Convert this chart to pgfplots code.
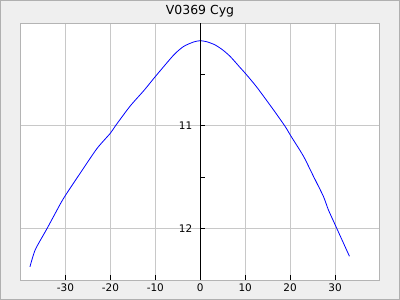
\documentclass[border=0pt]{standalone}
\usepackage{pgfplots}
\pgfplotsset{compat=1.18}
\usepackage{fontspec}
\setmainfont{DejaVu Sans}
\definecolor{bgc}{HTML}{EFEFEF}
\definecolor{outb}{HTML}{B0B0B0}
\definecolor{boxc}{HTML}{B4B4B4}
\definecolor{gridc}{HTML}{C8C8C8}
\begin{document}
\begin{tikzpicture}[x=1bp,y=1bp]
\useasboundingbox (0,0) rectangle (400,300);
\fill[bgc] (0,0) rectangle (400,300);
\draw[outb,line width=1bp] (0.5,0.5) rectangle (399.5,299.5);
\node[font=\fontsize{12.5}{14}\selectfont] at (200,289) {V0369 Cyg};
\begin{axis}[
  at={(20.5bp,20bp)}, anchor=south west,
  scale only axis, width=359.5bp, height=257bp,
  xmin=-40, xmax=40, ymin=10, ymax=12.5, y dir=reverse,
  axis background/.style={fill=white},
  axis line style={boxc,line width=1bp},
  xtick={-30,-20,-10,0,10,20,30},
  ytick={11,12}, yticklabels={}, ytick style={draw=none},
  xtick pos=left, tick align=inside,
  major tick length=5bp,
  xtick style={black,line width=1bp},
  grid=major, major grid style={gridc,line width=1bp},
  tick label style={font=\fontsize{10.5}{12}\selectfont},
  /pgf/number format/assume math mode=true,
  clip=true,
]
\addplot[blue,line width=0.8bp,no marks,smooth,tension=0.4] coordinates {
(-37.9,12.372) (-36.7,12.204) (-34.1,12.000) (-31.1,11.757) (-29.9,11.670)
(-26.7,11.460) (-23.0,11.222) (-20.0,11.072) (-18.9,11.002) (-15.6,10.808)
(-12.5,10.655) (-10.0,10.521) (-5.9,10.311) (-3.7,10.228) (-1.5,10.185)
(0,10.172) (1.5,10.183) (3.3,10.213) (5.0,10.262) (6.7,10.327) (8.9,10.435)
(10.0,10.488) (12.6,10.625) (16.3,10.845) (18.9,11.007) (20.0,11.087)
(20.7,11.136) (23.0,11.298) (25.2,11.492) (27.4,11.686) (28.5,11.816)
(30.0,11.961) (33.2,12.269)
};
\end{axis}
\begin{axis}[
  at={(20.5bp,20bp)}, anchor=south west,
  scale only axis, width=359.5bp, height=257bp,
  xmin=-40, xmax=40, ymin=10, ymax=12.5, y dir=reverse,
  axis x line=none, axis y line=center,
  axis line style={black,line width=1bp,-},
  ytick={11,12}, minor ytick={10.5,11.5},
  major tick length=5bp, minor tick length=5bp,
  ytick style={black,line width=1bp,xshift=2.5bp},
  yticklabel style={font=\fontsize{10.5}{12}\selectfont,xshift=-2bp},
  /pgf/number format/assume math mode=true,
]
\end{axis}
\end{tikzpicture}
\end{document}
